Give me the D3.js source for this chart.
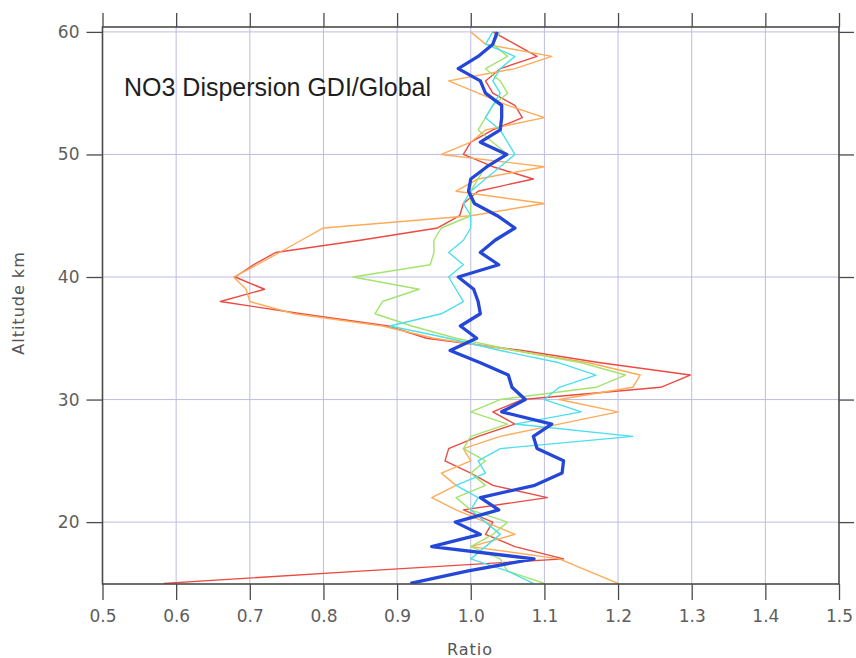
<!DOCTYPE html>
<html>
<head>
<meta charset="utf-8">
<script src="https://cdn.jsdelivr.net/npm/d3@7/dist/d3.min.js"></script>
<style>
  html, body { margin: 0; padding: 0; background: #fff; }
  svg { display: block; }
</style>
</head>
<body>
<svg id="chart" width="856" height="658"></svg>
<script>
// Altitude levels (km), top to bottom
const altitudes = [60,59,58,57,56,55,54,53,52,51,50,49,48,47,46,45,44,43,42,41,40,39,38,37,36,35,34,33,32,31,30,29,28,27,26,25,24,23,22,21,20,19,18,17,16,15];

// Dispersion ratio profiles, one value per altitude level
const redRatio = [1.03,1.06,1.09,1.04,1.02,1.03,1.06,1.07,1.03,1.00,0.99,1.03,1.085,1.01,0.99,0.985,0.955,0.85,0.735,0.705,0.68,0.72,0.66,0.77,0.888,0.94,1.07,1.176,1.298,1.258,1.07,1.03,1.06,1.01,0.97,0.965,1.00,1.03,1.104,0.99,1.03,1.02,1.06,1.126,0.85,0.583];
const orangeRatio = [1.00,1.02,1.11,1.06,0.97,1.01,1.05,1.10,1.02,1.00,0.96,1.10,1.01,0.98,1.10,1.00,0.80,0.77,0.74,0.71,0.678,0.695,0.70,0.76,0.88,0.95,1.06,1.16,1.23,1.22,1.12,1.20,1.12,1.04,0.99,1.00,0.96,0.98,0.947,0.98,1.02,1.06,1.00,1.12,1.16,1.20];
const greenRatio = [1.04,1.03,1.05,1.02,1.04,1.05,1.03,1.02,1.01,1.03,1.05,1.02,1.01,1.00,1.00,1.00,0.96,0.95,0.95,0.945,0.84,0.93,0.88,0.87,0.92,0.98,1.06,1.15,1.21,1.17,1.04,1.00,1.05,1.00,0.99,1.02,1.00,1.02,0.98,1.00,1.05,1.03,1.00,1.04,1.05,1.10];
const cyanRatio = [1.03,1.02,1.06,1.04,1.03,1.04,1.03,1.02,1.04,1.05,1.06,1.04,1.02,1.00,0.99,1.00,1.00,0.99,0.97,0.99,0.97,0.98,0.99,0.96,0.89,0.97,1.04,1.12,1.17,1.12,1.10,1.15,1.06,1.22,1.04,1.01,1.02,0.98,1.01,1.00,1.02,1.04,1.02,1.00,1.05,1.085];
const blueRatio = [1.036,1.03,1.01,0.983,1.013,1.02,1.042,1.042,1.04,1.013,1.049,1.022,1.00,0.997,1.005,1.036,1.06,1.033,1.013,1.038,0.983,1.004,1.01,1.013,0.986,1.008,0.972,1.013,1.051,1.056,1.074,1.042,1.11,1.085,1.09,1.126,1.124,1.087,1.013,1.038,0.979,1.013,0.947,1.086,0.995,0.918];

// Axis ticks
const xTicks = [0.5,0.6,0.7,0.8,0.9,1.0,1.1,1.2,1.3,1.4,1.5];
const yTicks = [20,30,40,50,60];

const series = [
  { name: "red",    values: redRatio,    color: "#ea4a42", width: 1.4 },
  { name: "orange", values: orangeRatio, color: "#ffab58", width: 1.4 },
  { name: "green",  values: greenRatio,  color: "#a3e46c", width: 1.4 },
  { name: "cyan",   values: cyanRatio,   color: "#4cdfee", width: 1.4 },
  { name: "blue",   values: blueRatio,   color: "#2447d8", width: 3.3 }
];

const svg = d3.select("#chart");
const plotLeft = 102.5, plotRight = 839, plotTop = 27, plotBottom = 584;

const x = d3.scaleLinear().domain([0.5, 1.5]).range([plotLeft, plotRight]);
const y = d3.scaleLinear().domain([14.95, 60.4]).range([plotBottom, plotTop]);

// Grid
const grid = svg.append("g").attr("stroke", "#bcbce6").attr("stroke-width", 1);
grid.selectAll("line.v").data(xTicks.slice(1, -1)).join("line")
  .attr("x1", d => x(d)).attr("x2", d => x(d))
  .attr("y1", plotTop).attr("y2", plotBottom);
grid.selectAll("line.h").data(yTicks).join("line")
  .attr("x1", plotLeft).attr("x2", plotRight)
  .attr("y1", d => y(d)).attr("y2", d => y(d));

// Profiles
svg.append("clipPath").attr("id", "plot-clip")
  .append("rect").attr("x", plotLeft).attr("y", plotTop)
  .attr("width", plotRight - plotLeft).attr("height", plotBottom - plotTop);

const line = d3.line()
  .x(d => x(d.r))
  .y(d => y(d.alt));

const plot = svg.append("g").attr("clip-path", "url(#plot-clip)");
series.forEach(s => {
  const pts = altitudes.map((alt, i) => ({ alt, r: s.values[i] }));
  plot.append("path")
    .datum(pts)
    .attr("fill", "none")
    .attr("stroke", s.color)
    .attr("stroke-width", s.width)
    .attr("stroke-linejoin", "round")
    .attr("d", line);
});

// Frame and axes
const axisColor = "#4a4a4a";
const fmt = d3.format(".1f");

const xAxisB = svg.append("g").attr("transform", `translate(0,${plotBottom})`)
  .call(d3.axisBottom(x).tickValues(xTicks).tickFormat(fmt).tickSizeInner(16).tickSizeOuter(0).tickPadding(10));
const xAxisT = svg.append("g").attr("transform", `translate(0,${plotTop})`)
  .call(d3.axisTop(x).tickValues(xTicks).tickFormat("").tickSizeInner(14).tickSizeOuter(0));
const yAxisL = svg.append("g").attr("transform", `translate(${plotLeft},0)`)
  .call(d3.axisLeft(y).tickValues(yTicks).tickFormat(d3.format("d")).tickSizeInner(16).tickSizeOuter(0).tickPadding(7));
const yAxisR = svg.append("g").attr("transform", `translate(${plotRight},0)`)
  .call(d3.axisRight(y).tickValues(yTicks).tickFormat("").tickSizeInner(15).tickSizeOuter(0));

[xAxisB, xAxisT, yAxisL, yAxisR].forEach(g => {
  g.select(".domain").remove();
  g.selectAll(".tick line").attr("stroke", axisColor).attr("stroke-width", 1.3);
  g.selectAll(".tick text")
    .attr("fill", "#5e5e5e")
    .style("font-family", "'DejaVu Sans', sans-serif")
    .style("font-size", "17px");
});

svg.append("rect")
  .attr("x", plotLeft).attr("y", plotTop)
  .attr("width", plotRight - plotLeft).attr("height", plotBottom - plotTop)
  .attr("fill", "none").attr("stroke", axisColor).attr("stroke-width", 1.6);

// Axis titles
svg.append("text")
  .attr("x", 470).attr("y", 655)
  .attr("text-anchor", "middle")
  .attr("fill", "#555")
  .style("font-family", "'DejaVu Sans', sans-serif")
  .style("font-size", "16px")
  .style("letter-spacing", "1px")
  .text("Ratio");

svg.append("text")
  .attr("transform", `translate(24,303) rotate(-90)`)
  .attr("text-anchor", "middle")
  .attr("fill", "#555")
  .style("font-family", "'DejaVu Sans', sans-serif")
  .style("font-size", "16px")
  .style("letter-spacing", "1px")
  .text("Altitude km");

// Chart title inside the plot
svg.append("text")
  .attr("x", 124).attr("y", 96)
  .attr("fill", "#1e1e1e")
  .style("font-family", "'Liberation Sans', Arial, sans-serif")
  .style("font-size", "25px")
  .text("NO3 Dispersion GDI/Global");
</script>
</body>
</html>
